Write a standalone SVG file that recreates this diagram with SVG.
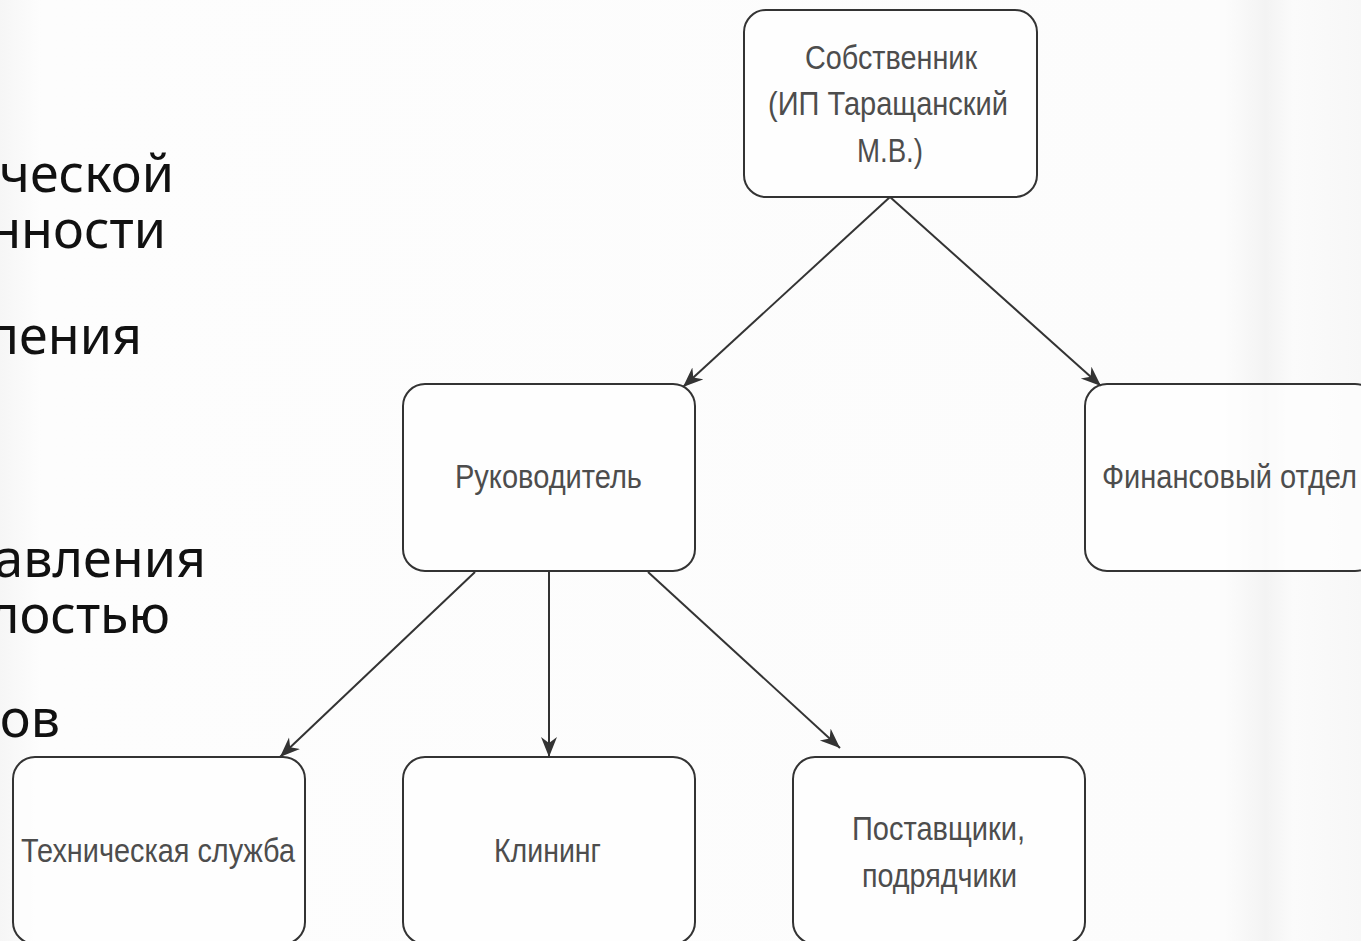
<svg xmlns="http://www.w3.org/2000/svg" width="1361" height="941" viewBox="0 0 1361 941">
  <defs>
    <style>
      .box { fill: #ffffff; fill-opacity: 0.6; stroke: #333333; stroke-width: 2; }
      .lbl { font-family: "Liberation Sans Narrow", "Liberation Sans", Arial, sans-serif; font-size: 34px; fill: #4d4d4d; }
      .side { font-family: "Noto Sans", "DejaVu Sans", sans-serif; font-size: 52px; fill: #111111; text-anchor: end; }
      .edge { stroke: #333333; stroke-width: 2; fill: none; }
    </style>
    <marker id="arr" markerUnits="userSpaceOnUse" markerWidth="24" markerHeight="18" refX="20" refY="8" orient="auto">
      <path d="M0,0 L20,8 L0,16 L6,8 Z" fill="#333333"/>
    </marker>
    <linearGradient id="bg" x1="0" y1="0" x2="1" y2="0">
      <stop offset="0" stop-color="#f6f6f6"/>
      <stop offset="0.03" stop-color="#fdfdfd"/>
      <stop offset="0.9" stop-color="#fcfcfc"/>
      <stop offset="0.93" stop-color="#f3f3f3"/>
      <stop offset="0.95" stop-color="#fbfbfb"/>
      <stop offset="1" stop-color="#f7f7f7"/>
    </linearGradient>
  </defs>
  <rect x="0" y="0" width="1361" height="941" fill="url(#bg)"/>

  <g id="side-text">
    <text class="side" x="174" y="192">ческой</text>
    <text class="side" x="166" y="248">нности</text>
    <text class="side" x="142" y="354">ления</text>
    <text class="side" x="206" y="577">авления</text>
    <text class="side" x="170" y="633">лостью</text>
    <text class="side" x="60" y="737">ов</text>
  </g>

  <g id="connectors">
    <line class="edge" x1="890" y1="197" x2="683" y2="387" marker-end="url(#arr)"/>
    <line class="edge" x1="890" y1="197" x2="1101" y2="386" marker-end="url(#arr)"/>
    <line class="edge" x1="475" y1="572" x2="280" y2="757" marker-end="url(#arr)"/>
    <line class="edge" x1="549" y1="572" x2="549" y2="757" marker-end="url(#arr)"/>
    <line class="edge" x1="648" y1="572" x2="840" y2="748" marker-end="url(#arr)"/>
  </g>

  <g id="owner">
    <rect class="box" x="744" y="10" width="293" height="187" rx="22"/>
    <text class="lbl" x="805" y="69" textLength="172" lengthAdjust="spacingAndGlyphs">Собственник</text>
    <text class="lbl" x="768" y="115" textLength="240" lengthAdjust="spacingAndGlyphs">(ИП Таращанский</text>
    <text class="lbl" x="857" y="162" textLength="66" lengthAdjust="spacingAndGlyphs">М.В.)</text>
  </g>

  <g id="manager">
    <rect class="box" x="403" y="384" width="292" height="187" rx="22"/>
    <text class="lbl" x="455" y="488" textLength="187" lengthAdjust="spacingAndGlyphs">Руководитель</text>
  </g>

  <g id="finance">
    <rect class="box" x="1085" y="384" width="292" height="187" rx="22"/>
    <text class="lbl" x="1102" y="488" textLength="255" lengthAdjust="spacingAndGlyphs">Финансовый отдел</text>
  </g>

  <g id="tech">
    <rect class="box" x="13" y="757" width="292" height="187" rx="22"/>
    <text class="lbl" x="21" y="862" textLength="274" lengthAdjust="spacingAndGlyphs">Техническая служба</text>
  </g>

  <g id="cleaning">
    <rect class="box" x="403" y="757" width="292" height="187" rx="22"/>
    <text class="lbl" x="494" y="862" textLength="107" lengthAdjust="spacingAndGlyphs">Клининг</text>
  </g>

  <g id="suppliers">
    <rect class="box" x="793" y="757" width="292" height="187" rx="22"/>
    <text class="lbl" x="852" y="840" textLength="173" lengthAdjust="spacingAndGlyphs">Поставщики,</text>
    <text class="lbl" x="862" y="887" textLength="155" lengthAdjust="spacingAndGlyphs">подрядчики</text>
  </g>
</svg>
